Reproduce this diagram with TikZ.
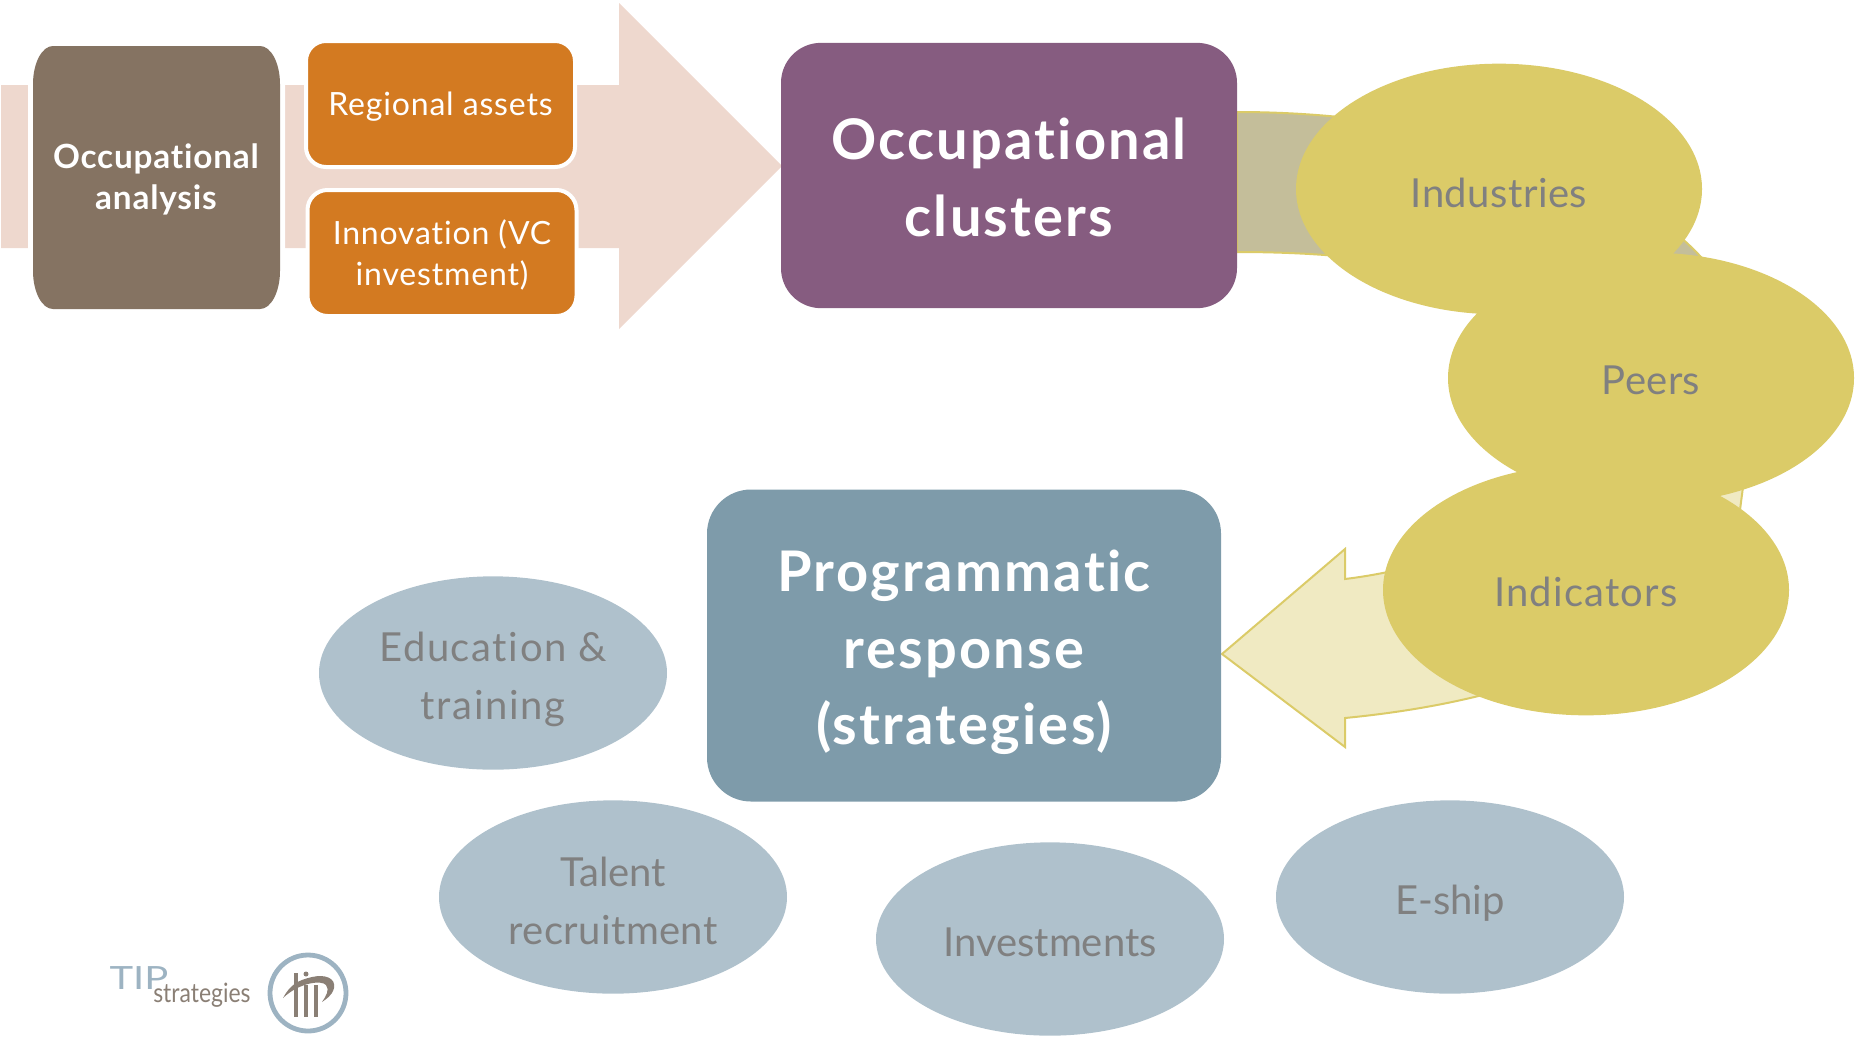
\documentclass[tikz,border=0pt]{standalone}
\usepackage{fontspec}
\setmainfont{Lato}[Ligatures=NoCommon]
\usetikzlibrary{shapes.geometric}
\definecolor{armfill}{HTML}{EED8CE}
\definecolor{brownbox}{HTML}{857362}
\definecolor{orangebox}{HTML}{D37A21}
\definecolor{purplebox}{HTML}{865C80}
\definecolor{slatebox}{HTML}{7E9BAA}
\definecolor{goldoval}{HTML}{DBCB68}
\definecolor{blueoval}{HTML}{AFC1CC}
\definecolor{paleband}{HTML}{F0EAC2}
\definecolor{tanband}{HTML}{C4BE9A}
\definecolor{greytext}{HTML}{808080}
\definecolor{logoblue}{HTML}{9DB3C2}
\definecolor{logobrown}{HTML}{8A7F75}
\newcommand\lowerby[2]{\raisebox{-#1}[\height][\depth]{\begin{tabular}{@{}c@{}}#2\end{tabular}}}
\newcommand\spaced[1]{\addfontfeature{LetterSpace=#1}}
\tikzset{
  x=0.75pt,y=-0.75pt,
  orangenode/.style={fill=orangebox,draw=white,line width=3pt,rounded corners=15pt,text=white,
    minimum width=201.75pt,minimum height=94.5pt,inner sep=0pt,font=\fontsize{24pt}{30.5pt}\selectfont\spaced{2.6}},
  bigbox/.style={rounded corners=30pt,text=white,inner sep=0pt,
    font=\fontsize{42pt}{57.5pt}\selectfont\bfseries\spaced{4}},
  goldnode/.style={ellipse,fill=goldoval,text=greytext,minimum width=304.5pt,minimum height=188pt,inner sep=0pt,
    font=\fontsize{30pt}{36pt}\selectfont},
  bluenode/.style={ellipse,fill=blueoval,text=greytext,minimum width=261pt,minimum height=145pt,inner sep=0pt,
    font=\fontsize{30pt}{44pt}\selectfont},
}
\begin{document}
\begin{tikzpicture}
\useasboundingbox (0,0) rectangle (1856,1036);
% large pale arrow behind the first row
\fill[armfill] (1,85) -- (619,85) -- (619,3) -- (782,166) -- (619,329) -- (619,248) -- (1,248) -- cycle;
% curved arrow behind the gold ovals
\def\bandpath{(1237,112) .. controls (1440,112) and (1620,170) .. (1700,256)
  .. controls (1770,330) and (1750,430) .. (1740,510)
  .. controls (1690,640) and (1530,700) .. (1345,718)
  -- (1345,747) -- (1222,654) -- (1345,549) -- (1345,579)
  .. controls (1500,560) and (1600,480) .. (1600,400)
  .. controls (1600,300) and (1450,252) .. (1237,252) -- cycle}
\fill[paleband] \bandpath;
\begin{scope}
  \clip (1200,90) rectangle (1800,370);
  \fill[tanband] \bandpath;
\end{scope}
\draw[goldoval,line width=1.5pt,line join=miter] \bandpath;
% first row
\def\brownpath{(53,46) -- (260,46) .. controls (271,46) and (280,63) .. (280,84)
  -- (280,271) .. controls (280,292) and (271,309) .. (260,309) -- (53,309)
  .. controls (42,309) and (33,292) .. (33,271) -- (33,84) .. controls (33,63) and (42,46) .. (53,46) -- cycle}
\draw[white,line width=7.5pt] \brownpath;
\fill[brownbox] \brownpath;
\node[text=white,inner sep=0pt,font=\fontsize{25pt}{30.5pt}\selectfont\bfseries\spaced{2.4}] (analysis) at (156,177) {\lowerby{2.8pt}{Occupational\\analysis}};
\node[orangenode] (assets) at (440.5,104) {\lowerby{2.8pt}{Regional assets}};
\node[orangenode] (innovation) at (442,253) {\lowerby{2.8pt}{Innovation (VC\\investment)}};
% main boxes
\node[bigbox,fill=purplebox,minimum width=342pt,minimum height=199pt] (clusters) at (1009,175.5) {\lowerby{5.3pt}{Occupational\\clusters}};
\node[bigbox,fill=slatebox,rounded corners=33pt,minimum width=385.5pt,minimum height=234pt] (response) at (964,645.5) {\lowerby{5.5pt}{Programmatic\\response\\(strategies)}};
% gold ovals
\node[goldnode] (industries) at (1499,189) {\lowerby{7pt}{\spaced{1.2}Industries}};
\node[goldnode] (peers) at (1651,378) {\lowerby{5.2pt}{\spaced{1}Peers}};
\node[goldnode] (indicators) at (1586,590) {\lowerby{5.2pt}{\spaced{3}Indicators}};
% blue ovals
\node[bluenode] (education) at (493,673) {\lowerby{4.4pt}{\spaced{4}Education \&\\\spaced{4}training}};
\node[bluenode] (talent) at (613,897) {\lowerby{5pt}{Talent\\\spaced{1}recruitment}};
\node[bluenode] (investments) at (1050,939) {\lowerby{4.4pt}{Investments}};
\node[bluenode] (eship) at (1450,897) {\lowerby{4.4pt}{E-ship}};
% logo
\node[text=logoblue,inner sep=0pt,font=\fontsize{24pt}{24pt}\selectfont] (logotip) at (139,978) {\scalebox{1.25}[1]{TIP}};
\node[text=logobrown,inner sep=0pt,anchor=base west,font=\fontsize{20pt}{20pt}\selectfont] (logotext) at (153,1002) {\scalebox{0.86}[1]{strategies}};
\node[circle,draw=logoblue,line width=3.6pt,minimum size=57pt,inner sep=0pt] (logoring) at (308,993) {};
\fill[logobrown] (294,973) rectangle (298,1017);
\fill[logobrown] (304,985) rectangle (308,1017);
\fill[logobrown] (314,985) rectangle (318,1017);
\fill[logobrown] (306,974) circle (2.5);
\fill[logobrown] (283,998) .. controls (290,985) and (298,980) .. (312,977)
  .. controls (325,974) and (336,978) .. (334,988) .. controls (332,996) and (326,999) .. (322,1002)
  .. controls (326,996) and (330,990) .. (326,985) .. controls (322,980) and (300,982) .. (283,998) -- cycle;
\end{tikzpicture}
\end{document}
